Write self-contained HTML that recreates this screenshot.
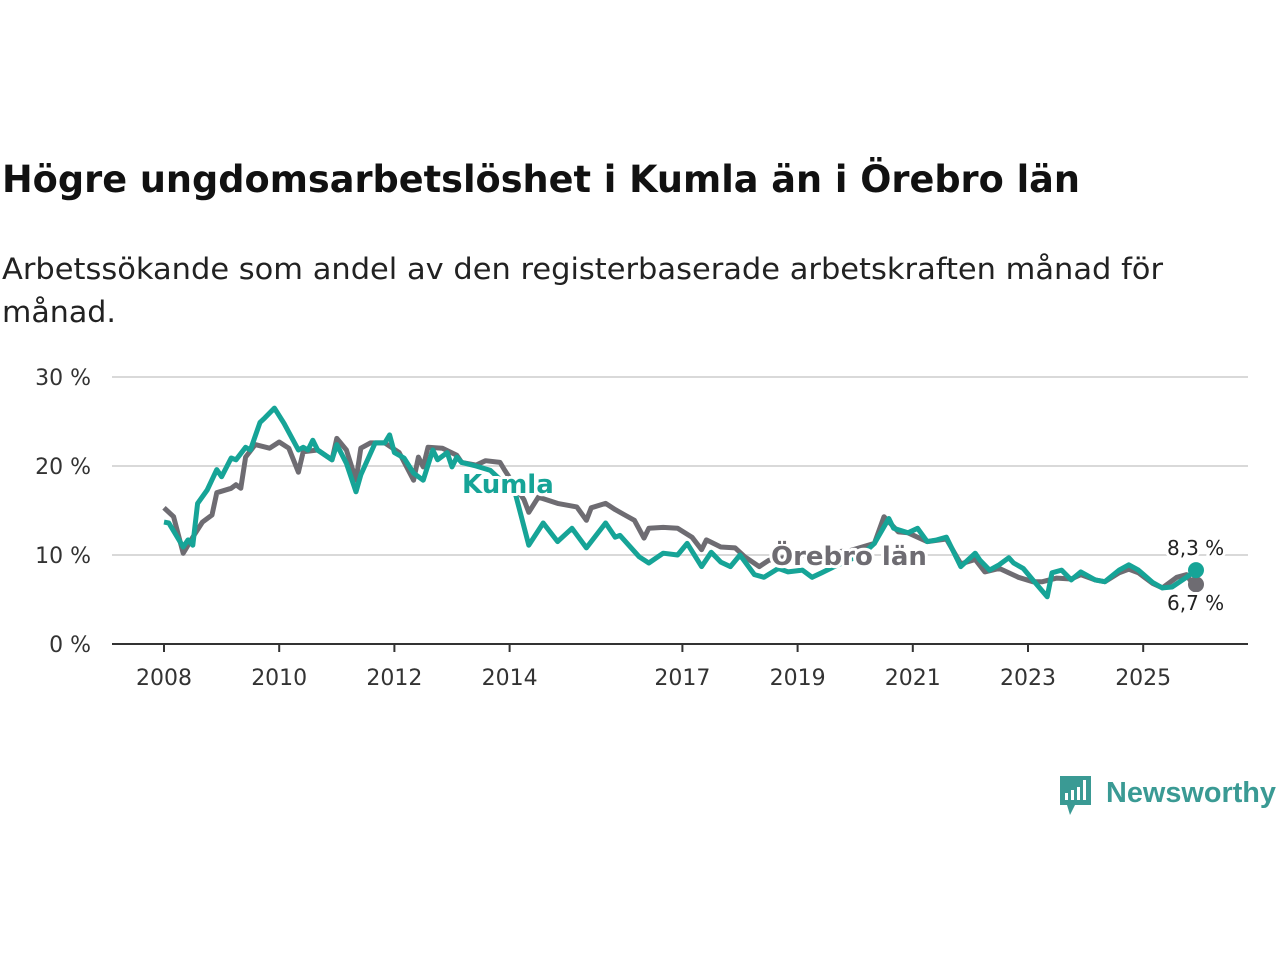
<!DOCTYPE html>
<html><head><meta charset="utf-8"><style>
body{margin:0;background:#fff;width:1280px;height:960px;overflow:hidden;font-family:"DejaVu Sans","Liberation Sans",sans-serif;}
</style></head><body>
<svg width="1280" height="960" id="svg">
<text x="2" y="192" font-size="37" font-weight="bold" fill="#111" textLength="1078" lengthAdjust="spacingAndGlyphs">Högre ungdomsarbetslöshet i Kumla än i Örebro län</text>
<text x="2" y="279" font-size="29" fill="#222" textLength="1161" lengthAdjust="spacingAndGlyphs">Arbetssökande som andel av den registerbaserade arbetskraften månad för</text>
<text x="2" y="322" font-size="29" fill="#222" textLength="114" lengthAdjust="spacingAndGlyphs">månad.</text>
<g id="grid"></g><g id="lines"></g><g id="labels"></g>
<g>
<path d="M1060 776 h31 v29 h-16 l-5 10 l-3 -10 h-7 z" fill="#3a9a94"/>
<rect x="1065" y="793" width="3" height="7" fill="#fff"/><rect x="1071" y="790" width="3" height="10" fill="#fff"/><rect x="1077" y="787" width="3" height="13" fill="#fff"/><rect x="1083" y="780" width="3" height="20" fill="#fff"/>
<text x="1106" y="802" font-size="29" font-weight="bold" fill="#3a9a94" textLength="170" lengthAdjust="spacingAndGlyphs" font-family="Liberation Sans, sans-serif">Newsworthy</text>
</g>
</svg>
<script>
const yTicks=[0,10,20,30];
const xTickYears=[2008,2010,2012,2014,2017,2019,2021,2023,2025];
const kumlaMonths=[0,1,4,5,6,7,9,11,12,14,15,17,18,20,21,23,25,28,29,30,31,32,35,36,38,40,41,44,46,47,48,50,52,54,56,57,59,60,61,62,65,68,71,73,76,79,82,85,88,92,94,95,99,101,104,107,109,112,114,116,118,120,123,125,128,130,133,135,137,140,143,146,148,151,152,155,157,159,161,163,166,169,170,172,174,176,177,179,181,184,185,187,189,191,194,196,199,201,203,206,208,210,213,215];
const kumlaValues=[13.7,13.6,10.9,11.7,11.1,15.8,17.3,19.6,18.8,20.9,20.7,22.1,21.8,24.9,25.4,26.5,24.8,21.8,22.1,21.8,22.9,21.8,20.7,22.4,20.3,17.1,19,22.6,22.6,23.5,21.5,20.9,19.2,18.4,21.8,20.7,21.5,19.9,21,20.4,20,19.5,18,17.3,11.1,13.6,11.5,13,10.8,13.6,12,12.2,9.8,9.1,10.2,10,11.3,8.7,10.3,9.2,8.7,10,7.8,7.5,8.5,8.1,8.3,7.5,8,8.8,9.5,10.3,11.3,14.1,13,12.5,13,11.5,11.7,12,8.7,10.2,9.4,8.3,8.9,9.7,9.1,8.5,7.2,5.3,8,8.3,7.2,8.1,7.2,7,8.3,8.9,8.3,6.9,6.3,6.4,7.5,8.3];
const orebroMonths=[0,2,4,6,8,10,11,14,15,16,17,19,22,24,26,28,29,32,35,36,38,40,41,43,46,49,52,53,54,55,58,61,62,65,67,70,71,75,76,78,82,86,88,89,92,94,96,98,100,101,104,107,110,112,113,116,119,121,124,126,130,137,143,148,150,153,155,159,163,166,169,171,174,178,181,183,186,189,191,194,196,199,201,203,206,208,211,213,214,215];
const orebroValues=[15.3,14.3,10.2,12,13.7,14.5,17,17.5,17.9,17.5,21,22.4,22,22.7,22,19.3,21.6,21.8,20.7,23.1,21.8,18.4,22,22.6,22.6,21.5,18.4,21,19.9,22.1,22,21.2,20.4,20.1,20.6,20.4,19.5,16.2,14.8,16.5,15.8,15.4,13.9,15.3,15.8,15.1,14.5,13.9,11.9,13,13.1,13,12,10.6,11.7,10.9,10.8,9.8,8.7,9.4,9.8,10.2,10.5,11.3,14.3,12.6,12.5,11.5,11.8,9,9.5,8.1,8.5,7.5,7,7,7.4,7.3,7.8,7.2,7,8,8.4,8,6.8,6.3,7.5,7.8,7.0,6.7];
const NS='http://www.w3.org/2000/svg';
const yS=v=>644-v*8.9;
const xYear=y=>164+(y-2008)*57.6;
const xM=m=>164+m*4.8;
function mk(tag,attrs,parent){const e=document.createElementNS(NS,tag);for(const k in attrs)e.setAttribute(k,attrs[k]);parent.appendChild(e);return e;}
const grid=document.getElementById('grid'),lines=document.getElementById('lines'),labels=document.getElementById('labels');
yTicks.forEach(t=>{
  if(t>0){const g=mk('line',{x1:112,x2:1248,y1:yS(t),y2:yS(t),stroke:'#d9d9d9','stroke-width':2},grid);
  
  }
  const tx=mk('text',{x:91,y:yS(t)+8,'font-size':22,fill:'#333','text-anchor':'end'},grid);tx.textContent=t+' %';
  
  
});
const ax=mk('line',{x1:112,x2:1248,y1:644,y2:644,stroke:'#333','stroke-width':2},grid);


xTickYears.forEach(y=>{
  const tk=mk('line',{x1:xYear(y),x2:xYear(y),y1:644,y2:652,stroke:'#333','stroke-width':2},grid);
  
  
  const tx=mk('text',{x:xYear(y),y:685,'font-size':22,fill:'#333','text-anchor':'middle'},grid);tx.textContent=y;
  
  
});
function path(ms,vs){return ms.map((m,i)=>(i?'L':'M')+xM(m).toFixed(1)+' '+yS(vs[i]).toFixed(1)).join(' ');}
const pg=mk('path',{d:path(orebroMonths,orebroValues),fill:'none',stroke:'#6e6c72','stroke-width':5,'stroke-linejoin':'round'},lines);


const pk=mk('path',{d:path(kumlaMonths,kumlaValues),fill:'none',stroke:'#16a497','stroke-width':5,'stroke-linejoin':'round'},lines);


const lk=kumlaMonths.length-1,lo=orebroMonths.length-1;
const dg=mk('circle',{cx:xM(orebroMonths[lo]),cy:yS(orebroValues[lo]),r:8,fill:'#6e6c72'},lines);


const dk=mk('circle',{cx:xM(kumlaMonths[lk]),cy:yS(kumlaValues[lk]),r:8,fill:'#16a497'},lines);


function lab(x,y,txt,col,sz,bold,name){const t=mk('text',{x:x,y:y,'font-size':sz,fill:col,'font-weight':bold?'bold':'normal',stroke:'#fff','stroke-width':6,'paint-order':'stroke','stroke-linejoin':'round'},labels);t.textContent=txt;

}
lab(462,493,'Kumla','#16a497',26,true,'kumla-label');
lab(771,565,'Örebro län','#6e6c72',26,true,'orebro-label');
lab(1167,555,kumlaValues[lk].toFixed(1).replace('.',',')+' %','#222',20,false,'kumla-end-value');
lab(1167,610,orebroValues[lo].toFixed(1).replace('.',',')+' %','#222',20,false,'orebro-end-value');
</script>
</body></html>
